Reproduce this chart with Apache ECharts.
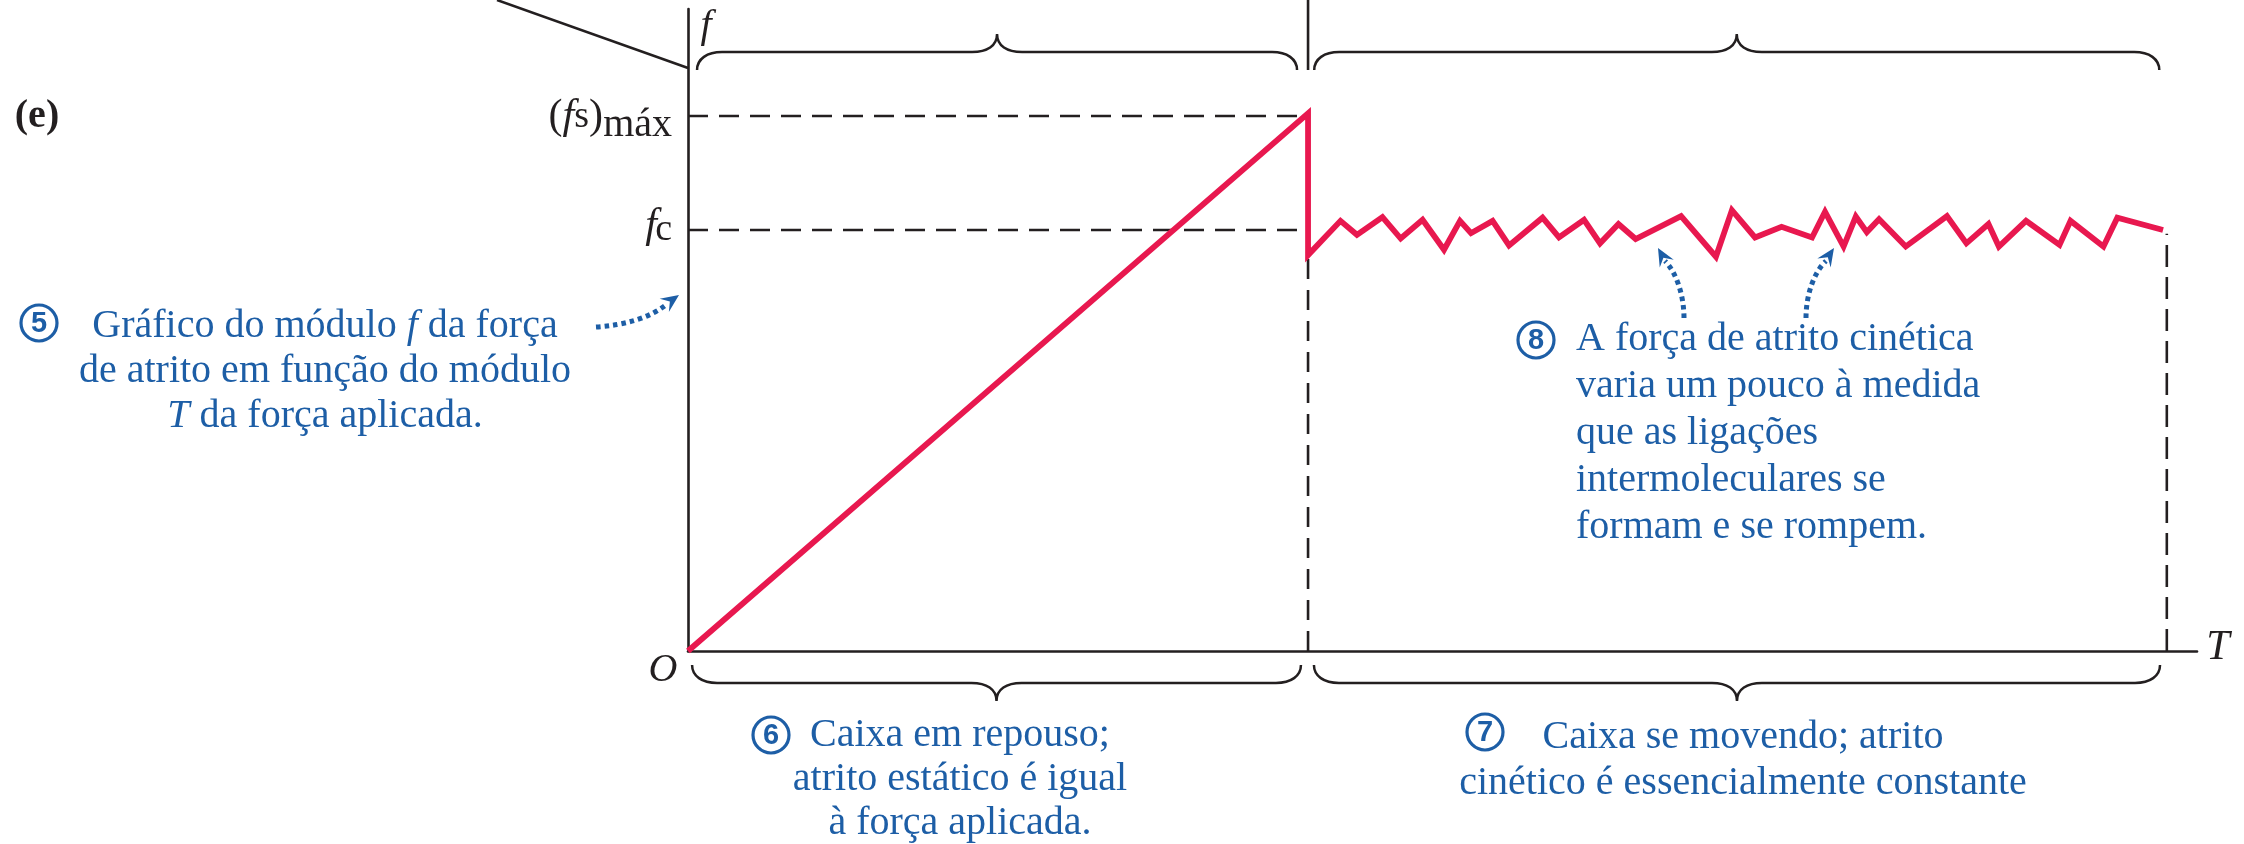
<!DOCTYPE html>
<html><head><meta charset="utf-8">
<script src="https://cdn.jsdelivr.net/npm/echarts@6/dist/echarts.min.js"></script>
<style>html,body{margin:0;padding:0;background:#fff}#c{width:2244px;height:844px}</style>
</head><body><div id="c"></div>
<script>
// ---- data (arbitrary units: T 0..100, f 0..12) ----
const T_MAX = 100, F_MAX = 12;
const FS_MAX = 10;      // (f_s)max
const FC = 7.87;        // f_c
const SLIP_T = 41.09;   // T at which the box starts to move
const END_T = 98.0;     // end of plotted range
const staticT = [0, 41.09];
const staticF = [0, 10.05];
const kineticT = [41.09, 43.24, 44.33, 46.02, 47.23, 48.68, 50.10, 51.16, 51.89, 53.32, 54.41, 56.63, 57.72, 59.38, 60.44, 61.66, 62.80, 65.81, 68.12, 69.18, 70.71, 72.47, 74.49, 75.35, 76.58, 77.39, 78.12, 78.93, 80.70, 83.43, 84.72, 86.18, 86.87, 88.67, 90.89, 91.62, 93.80, 94.72, 97.75];
const kineticF = [7.40, 8.04, 7.78, 8.11, 7.71, 8.06, 7.50, 8.04, 7.81, 8.04, 7.58, 8.10, 7.73, 8.06, 7.62, 7.98, 7.70, 8.13, 7.37, 8.24, 7.73, 7.93, 7.73, 8.21, 7.56, 8.12, 7.83, 8.07, 7.56, 8.13, 7.62, 7.98, 7.56, 8.04, 7.59, 8.04, 7.56, 8.10, 7.87];
const END_DASH_F = 7.8;
const bottomBraces = [[0.27, 40.62], [41.48, 97.55]];
const topBraces = [[0.6, 40.36], [41.5, 97.5]];
const topLeaderDir = [-1, 1];
const BRACE_TOP_F = 10.86;
const SEP_TOP_F = 12.17;

// ---- styles ----
const RED = '#e8184f', INK = '#231f20', BLUE = '#1d5ea6';
const SERIF = '"Liberation Serif", "DejaVu Serif", serif';

const mainData = [];
staticT.forEach((t, i) => mainData.push([t, staticF[i]]));
kineticT.forEach((t, i) => mainData.push([t, kineticF[i]]));

function braceItem(params, api) {
  const t0 = api.value(0), t1 = api.value(1), top = api.value(2) === 1;
  const p0 = api.coord([t0, top ? BRACE_TOP_F : 0]);
  const p1 = api.coord([t1, top ? BRACE_TOP_F : 0]);
  const dir = top ? -1 : 1;
  const x0 = p0[0], x1 = p1[0];
  const y0 = p0[1] + (top ? 0 : 14);
  const yh = y0 + 18 * dir, yt = y0 + 36 * dir;
  const xm = (x0 + x1) / 2, r = 25;
  const d = `M${x0},${y0} C${x0},${y0 + 11 * dir} ${x0 + 10},${yh} ${x0 + r},${yh} L${xm - r},${yh} C${xm - 10},${yh} ${xm},${yh + 6 * dir} ${xm},${yt} C${xm},${yh + 6 * dir} ${xm + 10},${yh} ${xm + r},${yh} L${x1 - r},${yh} C${x1 - 10},${yh} ${x1},${y0 + 11 * dir} ${x1},${y0}`;
  const children = [{ type: 'path', shape: { pathData: d }, style: { fill: 'none', stroke: INK, lineWidth: 2.5 } }];
  if (top) {
    const ld = topLeaderDir[params.dataIndex];
    children.push({ type: 'line', shape: { x1: xm, y1: yt, x2: xm + ld * 2.03 * (yt + 5), y2: -5 }, style: { stroke: INK, lineWidth: 2.5 } });
  }
  return { type: 'group', children };
}

function arrowHead(tip, ang, len, half) {
  const c = Math.cos(ang), s = Math.sin(ang);
  const bx = tip[0] - c * len, by = tip[1] - s * len;
  const nx = -s, ny = c;
  const notch = [tip[0] - c * len * 0.62, tip[1] - s * len * 0.62];
  return { type: 'polygon', shape: { points: [tip, [bx + nx * half, by + ny * half], notch, [bx - nx * half, by - ny * half]] }, style: { fill: BLUE } };
}
function dotted(x1, y1, c1x, c1y, c2x, c2y, x2, y2) {
  return { type: 'bezierCurve', shape: { x1, y1, cpx1: c1x, cpy1: c1y, cpx2: c2x, cpy2: c2y, x2, y2 }, style: { fill: 'none', stroke: BLUE, lineWidth: 5, lineDash: [4.5, 4] } };
}
function circled(n, cx, cy) {
  return { type: 'group', children: [
    { type: 'circle', shape: { cx, cy, r: 18 }, style: { fill: 'none', stroke: BLUE, lineWidth: 3.2 } },
    { type: 'text', style: { text: String(n), x: cx, y: cy + 1, align: 'center', verticalAlign: 'middle', font: 'bold 29px "Liberation Sans", Arial, sans-serif', fill: BLUE } }
  ] };
}
function blueText(text, x, y, align, lh) {
  const rich = {
    a: { font: `40px ${SERIF}`, fill: BLUE, lineHeight: lh },
    i: { font: `italic 40px ${SERIF}`, fill: BLUE, lineHeight: lh }
  };
  return { type: 'text', style: { text, x, y, align, verticalAlign: 'top', rich, lineHeight: lh } };
}
const inkRich = {
  p: { font: `42px ${SERIF}`, fill: INK },
  fi: { font: `italic 42px ${SERIF}`, fill: INK },
  s: { font: `38px ${SERIF}`, fill: INK }
};

const chart = echarts.init(document.getElementById('c'), null, { renderer: 'canvas' });
chart.setOption({
  animation: false,
  backgroundColor: '#fff',
  grid: { left: 688, right: 47, top: 9, bottom: 193 },
  xAxis: { type: 'value', min: 0, max: T_MAX, axisLine: { show: true, onZero: false, lineStyle: { color: INK, width: 2.6 } }, axisTick: { show: false }, axisLabel: { show: false }, splitLine: { show: false } },
  yAxis: { type: 'value', min: 0, max: F_MAX, axisLine: { show: true, onZero: false, lineStyle: { color: INK, width: 2.6 } }, axisTick: { show: false }, axisLabel: { show: false }, splitLine: { show: false } },
  series: [
    { type: 'line', data: [[0, FS_MAX], [SLIP_T, FS_MAX]], symbol: 'none', lineStyle: { color: INK, width: 2.6, type: [20, 11] }, z: 2 },
    { type: 'line', data: [[0, FC], [SLIP_T, FC]], symbol: 'none', lineStyle: { color: INK, width: 2.6, type: [20, 11] }, z: 2 },
    { type: 'line', data: [[SLIP_T, 0], [SLIP_T, kineticF[0]]], symbol: 'none', lineStyle: { color: INK, width: 2.6, type: [20, 11] }, z: 2 },
    { type: 'line', data: [[END_T, 0], [END_T, END_DASH_F]], symbol: 'none', lineStyle: { color: INK, width: 2.6, type: [22, 10] }, z: 2 },
    { type: 'line', data: [[SLIP_T, BRACE_TOP_F], [SLIP_T, SEP_TOP_F]], symbol: 'none', clip: false, lineStyle: { color: INK, width: 2.6 }, z: 2 },
    { type: 'line', data: mainData, symbol: 'none', lineStyle: { color: RED, width: 5.8, join: 'miter', cap: 'butt' }, z: 5 },
    { type: 'custom', renderItem: braceItem, clip: false, data: bottomBraces.map(b => [b[0], b[1], 0]).concat(topBraces.map(b => [b[0], b[1], 1])), z: 3 }
  ],
  graphic: [
    { type: 'line', shape: { x1: 497, y1: 0, x2: 688, y2: 68 }, style: { stroke: INK, lineWidth: 2.5 } },
    { type: 'text', style: { text: '(e)', x: 37, y: 117, align: 'center', verticalAlign: 'middle', font: `bold 40px ${SERIF}`, fill: INK } },
    { type: 'text', style: { text: '{p|(}{fi|f}{s|s}{p|)}', x: 603, y: 117, align: 'right', verticalAlign: 'middle', rich: inkRich } },
    { type: 'text', style: { text: 'máx', x: 672, y: 125, align: 'right', verticalAlign: 'middle', font: `40px ${SERIF}`, fill: INK } },
    { type: 'text', style: { text: '{fi|f}', x: 657, y: 226, align: 'right', verticalAlign: 'middle', rich: inkRich } },
    { type: 'text', style: { text: 'c', x: 672, y: 230, align: 'right', verticalAlign: 'middle', font: `38px ${SERIF}`, fill: INK } },
    { type: 'text', style: { text: 'O', x: 663, y: 670, align: 'center', verticalAlign: 'middle', font: `italic 40px ${SERIF}`, fill: INK } },
    { type: 'text', style: { text: 'T', x: 2218, y: 648, align: 'center', verticalAlign: 'middle', font: `italic 42px ${SERIF}`, fill: INK } },
    { type: 'text', style: { text: 'f', x: 706, y: 26, align: 'center', verticalAlign: 'middle', font: `italic 40px ${SERIF}`, fill: INK } },

    circled(5, 39, 323),
    blueText('{a|Gráfico do módulo }{i|f}{a| da força}\n{a|de atrito em função do módulo}\n{i|T}{a| da força aplicada.}', 325, 304, 'center', 45),
    dotted(596, 327, 625, 325, 650, 318, 667, 304),
    arrowHead([679, 295], Math.atan2(-7, 10), 18, 8),

    circled(8, 1536, 340),
    blueText('{a|A força de atrito cinética}\n{a|varia um pouco à medida}\n{a|que as ligações}\n{a|intermoleculares se}\n{a|formam e se rompem.}', 1576, 316, 'left', 47),
    dotted(1684, 318, 1684, 295, 1676, 272, 1665, 261),
    arrowHead([1658, 248], Math.atan2(-9, -5), 18, 8),
    dotted(1806, 318, 1806, 295, 1814, 272, 1826, 261),
    arrowHead([1834, 248], Math.atan2(-9, 6), 18, 8),

    circled(6, 771, 735),
    blueText('{a|Caixa em repouso;}\n{a|atrito estático é igual}\n{a|à força aplicada.}', 960, 713, 'center', 44),

    circled(7, 1485, 732),
    blueText('{a|Caixa se movendo; atrito}\n{a|cinético é essencialmente constante}', 1743, 714, 'center', 46)
  ]
});
</script></body></html>
